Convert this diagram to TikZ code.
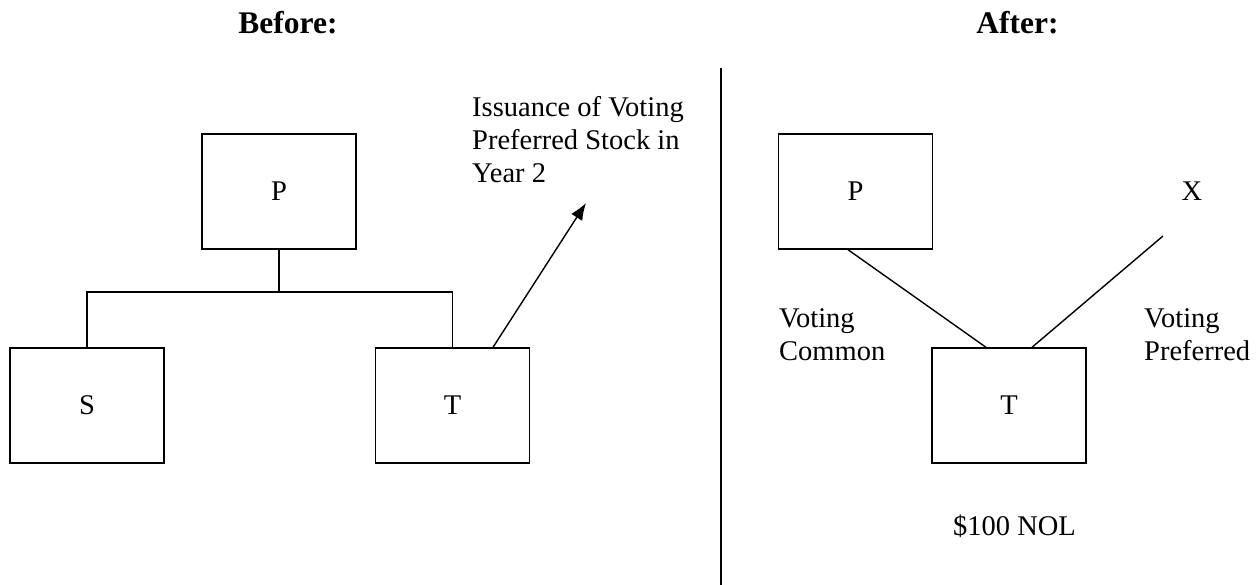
\documentclass[tikz,border=0pt]{standalone}
\usepackage{fontspec}
\setmainfont{Liberation Serif}
\usetikzlibrary{arrows.meta}
\begin{document}
\begin{tikzpicture}[x=1pt,y=-1pt,
  entity/.style={draw, line width=1.4pt, minimum width=154pt, minimum height=115pt,
                 inner sep=0pt, font=\fontsize{28.5}{33}\selectfont},
  body/.style={inner sep=0pt, font=\fontsize{28.5}{33}\selectfont},
  heading/.style={inner sep=0pt, anchor=base, font=\fontsize{31.5}{36}\selectfont\bfseries},
  link/.style={line width=1.4pt},
  divider/.style={line width=1.8pt}]
\useasboundingbox (0,0) rectangle (1256,585);

% headings
\node[heading] (hbefore) at (288,34) {Before:};
\node[heading] (hafter) at (1017.5,34) {After:};

% separating rule
\coordinate (rtop) at (721,68);
\coordinate (rbot) at (721,585);
\draw[divider] (rtop) -- (rbot);

% ---- before ----
\node[entity] (Pb) at (279,191.5) {P};
\node[entity] (Sb) at (87,405.5) {S};
\node[entity] (Tb) at (452.5,405.5) {T};
\coordinate (bus) at (279,292);
\draw[link] (Pb.south) -- (bus);
\draw[link] (Sb.north) |- (bus) -| (Tb.north);

\coordinate (issue) at (586,203);
\draw[link,-{Latex[length=17pt,width=13pt]}] ([xshift=40.5pt]Tb.north) -- (issue);
\node[body, anchor=north west, align=left] (issuetext) at (472,96.5)
  {Issuance of Voting\\Preferred Stock in\\Year 2};

% ---- after ----
\node[entity] (Pa) at (855.5,191.5) {P};
\node[entity] (Ta) at (1009,405.5) {T};
\node[body, anchor=base] (X) at (1192,201) {X};
\coordinate (xend) at (1163,236);
\draw[link] ([xshift=-7.5pt]Pa.south) -- ([xshift=-23pt]Ta.north);
\draw[link] (xend) -- ([xshift=23pt]Ta.north);

\node[body, anchor=north west, align=left] (common) at (779,308.5) {Voting\\Common};
\node[body, anchor=north west, align=left] (preferred) at (1144,308.5) {Voting\\Preferred};
\node[body, anchor=base] (nol) at (1014.5,535) {\$100 NOL};
\end{tikzpicture}
\end{document}
